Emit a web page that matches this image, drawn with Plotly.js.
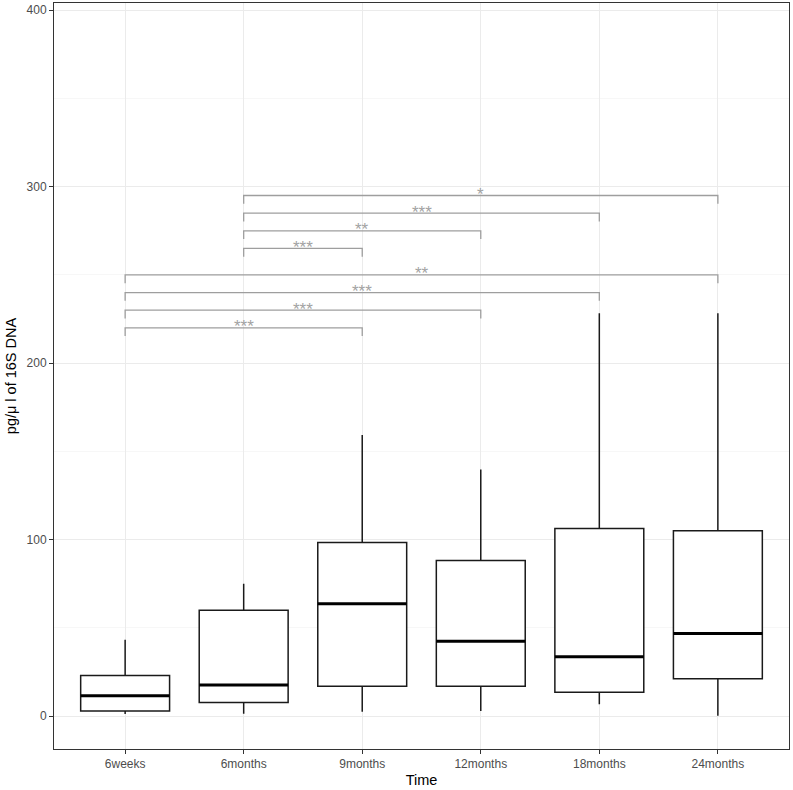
<!DOCTYPE html>
<html>
<head>
<meta charset="utf-8">
<script src="https://cdn.plot.ly/plotly-3.0.1.min.js"></script>
<style>html,body{margin:0;padding:0;background:#fff;}#chart{width:793px;height:790px;}</style>
</head>
<body>
<div id="chart"></div>
<script>
// Data
const categories = ['6weeks', '6months', '9months', '12months', '18months', '24months'];
const lowerFence = [1.1, 1.3, 2.4, 2.8, 6.6, 0.2];
const q1Values = [2.8, 7.7, 16.8, 16.8, 13.4, 21.1];
const medianValues = [11.5, 17.6, 63.6, 42.3, 33.6, 46.8];
const q3Values = [23.0, 60.0, 98.4, 88.2, 106.3, 105.0];
const upperFence = [43.2, 75.0, 159.2, 139.7, 228.3, 228.3];

// Significance comparisons
const compFrom = ['6weeks', '6weeks', '6weeks', '6weeks', '6months', '6months', '6months', '6months'];
const compTo = ['9months', '12months', '18months', '24months', '9months', '12months', '18months', '24months'];
const compY = [220, 230, 240, 250, 265, 275, 285, 295];
const compLabel = ['***', '***', '***', '**', '***', '**', '***', '*'];

const tipLen = 4.7;
const boxWidth = 0.75;
const fontFam = '"Liberation Sans", Arial, sans-serif';

const trace = {
  type: 'box',
  x: categories,
  q1: q1Values,
  median: medianValues,
  q3: q3Values,
  lowerfence: lowerFence,
  upperfence: upperFence,
  boxpoints: false,
  fillcolor: 'white',
  line: {color: '#1a1a1a', width: 1.5},
  whiskerwidth: 0,
  width: boxWidth,
  hoverinfo: 'skip',
  showlegend: false
};

const shapes = [];
// thick median lines (ggplot fatten)
medianValues.forEach((m, i) => {
  shapes.push({type: 'line', xref: 'x', yref: 'y', x0: i - boxWidth / 2, x1: i + boxWidth / 2, y0: m, y1: m,
    line: {color: '#000', width: 3}});
});

const annotations = [];
compFrom.forEach((f, k) => {
  const a = categories.indexOf(f), b = categories.indexOf(compTo[k]);
  const y = compY[k];
  shapes.push({type: 'path', xref: 'x', yref: 'y',
    path: `M ${a} ${y - tipLen} L ${a} ${y} L ${b} ${y} L ${b} ${y - tipLen}`,
    line: {color: '#9e9e9e', width: 1.3}});
  annotations.push({x: (a + b) / 2, y: y, xref: 'x', yref: 'y', text: compLabel[k], showarrow: false,
    yanchor: 'middle', yshift: 1, font: {family: fontFam, size: 17, color: '#a3a3a3'}});
});

const layout = {
  width: 793, height: 790,
  margin: {l: 54, r: 4, t: 3, b: 41},
  paper_bgcolor: 'white', plot_bgcolor: 'white',
  font: {family: fontFam},
  xaxis: {
    type: 'category', range: [-0.6, 5.6],
    showgrid: true, gridcolor: '#ebebeb', gridwidth: 1,
    showline: true, mirror: true, linecolor: '#333333', linewidth: 1,
    ticks: 'outside', ticklen: 4, tickcolor: '#333333', tickwidth: 1,
    tickfont: {size: 12, color: '#4d4d4d', family: fontFam},
    title: {text: 'Time', font: {size: 14.5, color: '#000', family: fontFam}, standoff: 4},
    zeroline: false, fixedrange: true
  },
  yaxis: {
    range: [-18.7, 404.1], tickvals: [0, 100, 200, 300, 400],
    showgrid: true, gridcolor: '#ebebeb', gridwidth: 1,
    minor: {tickvals: [50, 150, 250, 350], showgrid: true, gridcolor: '#f2f2f2', gridwidth: 0.6, ticks: ''},
    showline: true, mirror: true, linecolor: '#333333', linewidth: 1,
    ticks: 'outside', ticklen: 4, tickcolor: '#333333', tickwidth: 1,
    tickfont: {size: 12, color: '#4d4d4d', family: fontFam},
    title: {text: 'pg/μ l of 16S DNA', font: {size: 14.5, color: '#000', family: fontFam}, standoff: 6},
    zeroline: false, fixedrange: true
  },
  shapes: shapes,
  annotations: annotations
};

Plotly.newPlot('chart', [trace], layout, {displayModeBar: false, staticPlot: true});
</script>
</body>
</html>
